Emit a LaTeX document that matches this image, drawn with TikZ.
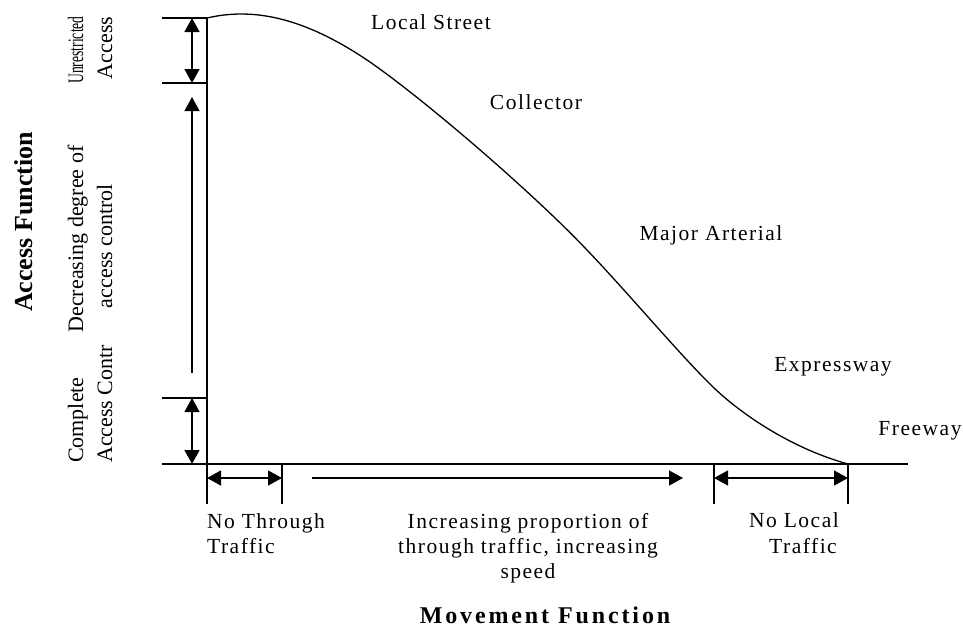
\documentclass[tikz,border=0pt]{standalone}
\usepackage{fontspec}
\setmainfont{Liberation Serif}
\newfontfamily\spacedfont[LetterSpace=7]{Liberation Serif}
\newfontfamily\spacedbold[LetterSpace=12]{Liberation Serif Bold}
\usetikzlibrary{arrows.meta}
\tikzset{
  axisline/.style={line width=1.3pt},
  dimarrow/.style={line width=1.3pt,{Triangle[length=14pt,width=15pt]}-{Triangle[length=14pt,width=15pt]}},
  onearrow/.style={line width=1.3pt,-{Triangle[length=14pt,width=15pt]}},
  roadlbl/.style={inner sep=0pt,anchor=base,font=\fontsize{21.5}{25}\spacedfont},
  sidelbl/.style={inner sep=0pt,rotate=90,anchor=base,font=\fontsize{22}{26}\selectfont},
  titlelbl/.style={inner sep=0pt,anchor=base,font=\fontsize{24}{28}\spacedbold},
}
\begin{document}
\begin{tikzpicture}[x=1pt,y=-1pt]
\useasboundingbox (0,0) rectangle (963,627);
% key points
\coordinate (top) at (207,18);
\coordinate (org) at (207,464);
\coordinate (yb) at (207,504);
\coordinate (t1l) at (162,18);
\coordinate (t2l) at (162,83);
\coordinate (t2r) at (207,83);
\coordinate (t3l) at (162,398);
\coordinate (t3r) at (207,398);
\coordinate (xl) at (162,464);
\coordinate (xr) at (908,464);
\coordinate (m1t) at (282,464);
\coordinate (m1b) at (282,504);
\coordinate (m2t) at (714,464);
\coordinate (m2b) at (714,504);
\coordinate (end) at (848,464);
\coordinate (m3b) at (848,504);
\coordinate (cA) at (367,60);
\coordinate (cB) at (587,250);
\coordinate (cC) at (713,387);
% axes and ticks
\draw[axisline] (top) -- (yb);
\draw[axisline] (xl) -- (xr);
\draw[axisline] (t1l) -- (top);
\draw[axisline] (t2l) -- (t2r);
\draw[axisline] (t3l) -- (t3r);
\draw[axisline] (m1t) -- (m1b);
\draw[axisline] (m2t) -- (m2b);
\draw[axisline] (end) -- (m3b);
% vertical arrows
\coordinate (va1) at (192,18);
\coordinate (va2) at (192,83);
\coordinate (va3) at (192,97);
\coordinate (va4) at (192,373);
\coordinate (va5) at (192,398);
\coordinate (va6) at (192,464);
\draw[dimarrow] (va1) -- (va2);
\draw[onearrow] (va4) -- (va3);
\draw[dimarrow] (va5) -- (va6);
% horizontal arrows
\coordinate (ha1) at (207,478);
\coordinate (ha2) at (282,478);
\coordinate (ha3) at (312,478);
\coordinate (ha4) at (683,478);
\coordinate (ha5) at (714,478);
\coordinate (ha6) at (848,478);
\draw[dimarrow] (ha1) -- (ha2);
\draw[onearrow] (ha3) -- (ha4);
\draw[dimarrow] (ha5) -- (ha6);
% curve
\draw[line width=1.3pt] (top) .. controls (250,8) and (300,15) .. (cA)
  .. controls (420,96) and (530,190) .. (cB)
  .. controls (630,295) and (680,355) .. (cC)
  .. controls (740,413) and (790,448) .. (end);
% road labels
\node[roadlbl] (ls) at (431,29) {Local Street};
\node[roadlbl] (col) at (536,109) {Collector};
\node[roadlbl] (ma) at (711,240) {Major Arterial};
\node[roadlbl] (ex) at (833,371) {Expressway};
\node[roadlbl] (fw) at (920,435) {Freeway};
% bottom labels
\node[roadlbl,anchor=base west] (nt1) at (207,528) {No Through};
\node[roadlbl,anchor=base west] (nt2) at (207,553) {Traffic};
\node[roadlbl] (ip1) at (528,528) {Increasing proportion of};
\node[roadlbl] (ip2) at (528,553) {through traffic, increasing};
\node[roadlbl] (ip3) at (528,578) {speed};
\node[roadlbl] (nl1) at (794,527) {No Local};
\node[roadlbl] (nl2) at (803,553) {Traffic};
\node[titlelbl] (mf) at (545,623) {Movement Function};
% side labels
\node[sidelbl,font=\fontsize{26}{30}\bfseries] (af) at (32,222) {Access Function};
\node[sidelbl] (ua1) at (83,50) {\scalebox{0.62}[1]{Unrestricted}};
\node[sidelbl] (ua2) at (112,48) {Access};
\node[sidelbl] (dd1) at (83,239) {Decreasing degree of};
\node[sidelbl] (dd2) at (112,246) {access control};
\node[sidelbl,anchor=base west] (ca1) at (83,463) {Complete};
\node[sidelbl,anchor=base west] (ca2) at (112,463) {Access Contr};
\end{tikzpicture}
\end{document}
